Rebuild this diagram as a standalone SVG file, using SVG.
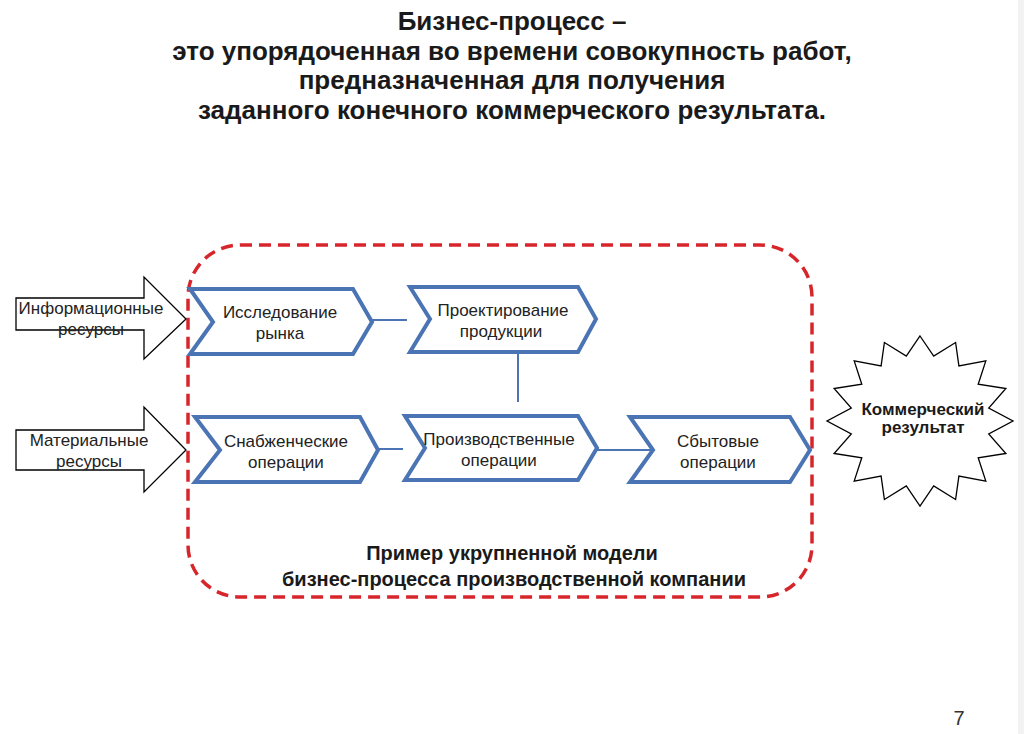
<svg xmlns="http://www.w3.org/2000/svg" width="1024" height="734" viewBox="0 0 1024 734">
<style>
.title{font-family:"Liberation Sans",Arial,sans-serif;font-weight:bold;font-size:26px;fill:#1a1a1a;text-anchor:middle}
.lbl{font-family:"Liberation Sans",Arial,sans-serif;font-size:17px;fill:#222;text-anchor:middle}
.bold{font-family:"Liberation Sans",Arial,sans-serif;font-weight:bold;fill:#1a1a1a;text-anchor:middle}
.chev{fill:#fff;stroke:#4a74b4;stroke-width:4;stroke-linejoin:miter}
.arrow{fill:#fff;stroke:#000;stroke-width:1.3}
.conn{stroke:#4a74b4;stroke-width:2;fill:none}
</style>
<rect width="1024" height="734" fill="#fff"/>
<rect x="1018" y="0" width="6" height="734" fill="#f2f2f2"/>
<g id="title">
<text class="title" x="512" y="30">Бизнес-процесс –</text>
<text class="title" x="512" y="60">это упорядоченная во времени совокупность работ,</text>
<text class="title" x="512" y="89">предназначенная для получения</text>
<text class="title" x="512" y="119">заданного конечного коммерческого результата.</text>
</g>
<g id="boundary">
<rect x="188" y="245" width="624" height="352" rx="52" ry="52" fill="none" stroke="#d7262b" stroke-width="3.5" stroke-dasharray="12,7"/>
<text class="bold" font-size="20" x="512" y="560">Пример укрупненной модели</text>
<text class="bold" font-size="20" x="514" y="586">бизнес-процесса производственной компании</text>
</g>
<g id="connectors">
<line class="conn" x1="372" y1="320" x2="407" y2="320"/>
<line class="conn" x1="518" y1="350" x2="518" y2="402"/>
<line class="conn" x1="378" y1="449" x2="403" y2="449"/>
<line class="conn" x1="595" y1="450" x2="653" y2="450"/>
</g>
<g id="info-resources">
<polygon class="arrow" points="16,298 144,298 144,277 186,319 144,359 144,330 16,330"/>
<text class="lbl" x="91" y="314">Информационные</text>
<text class="lbl" x="91" y="335">ресурсы</text>
</g>
<g id="material-resources">
<polygon class="arrow" points="16,430 144,430 144,407 186,450 144,492 144,470 16,470"/>
<text class="lbl" x="89" y="446">Материальные</text>
<text class="lbl" x="89" y="467">ресурсы</text>
</g>
<g id="market-research">
<polygon class="chev" points="190,289 353,289 372,322 353,354 190,354 213,322"/>
<text class="lbl" x="280" y="318">Исследование</text>
<text class="lbl" x="280" y="339">рынка</text>
</g>
<g id="product-design">
<polygon class="chev" points="410,287 578,287 596,319 578,352 410,352 430,319"/>
<text class="lbl" x="503" y="316">Проектирование</text>
<text class="lbl" x="501" y="337">продукции</text>
</g>
<g id="supply">
<polygon class="chev" points="195,417 360,417 378,450 360,482 195,482 220,450"/>
<text class="lbl" x="286" y="447">Снабженческие</text>
<text class="lbl" x="286" y="468">операции</text>
</g>
<g id="production">
<polygon class="chev" points="405,416 578,416 597,448 578,480 405,480 425,448"/>
<text class="lbl" x="499" y="445">Производственные</text>
<text class="lbl" x="499" y="466">операции</text>
</g>
<g id="sales">
<polygon class="chev" points="630,417 790,417 810,450 790,482 630,482 653,450"/>
<text class="lbl" x="718" y="447">Сбытовые</text>
<text class="lbl" x="718" y="468">операции</text>
</g>
<g id="result">
<polygon fill="#fff" stroke="#000" stroke-width="1.3" points="920,336 933.7,356 955.6,342.5 958.9,365.9 985.8,360.9 978.2,384.2 1005.9,388.5 988.7,408.1 1013,421 988.7,433.9 1005.9,453.5 978.2,457.8 985.8,481.1 958.9,476.1 955.6,499.5 933.7,486 920,506 906.3,486 884.4,499.5 881.1,476.1 854.2,481.1 861.8,457.8 834.1,453.5 851.3,433.9 827,421 851.3,408.1 834.1,388.5 861.8,384.2 854.2,360.9 881.1,365.9 884.4,342.5 906.3,356"/>
<text class="bold" font-size="17" x="923" y="415">Коммерческий</text>
<text class="bold" font-size="17" x="923" y="433">результат</text>
</g>
<text x="959" y="725" font-family="Liberation Sans,Arial,sans-serif" font-size="20" fill="#333" text-anchor="middle">7</text>
</svg>
